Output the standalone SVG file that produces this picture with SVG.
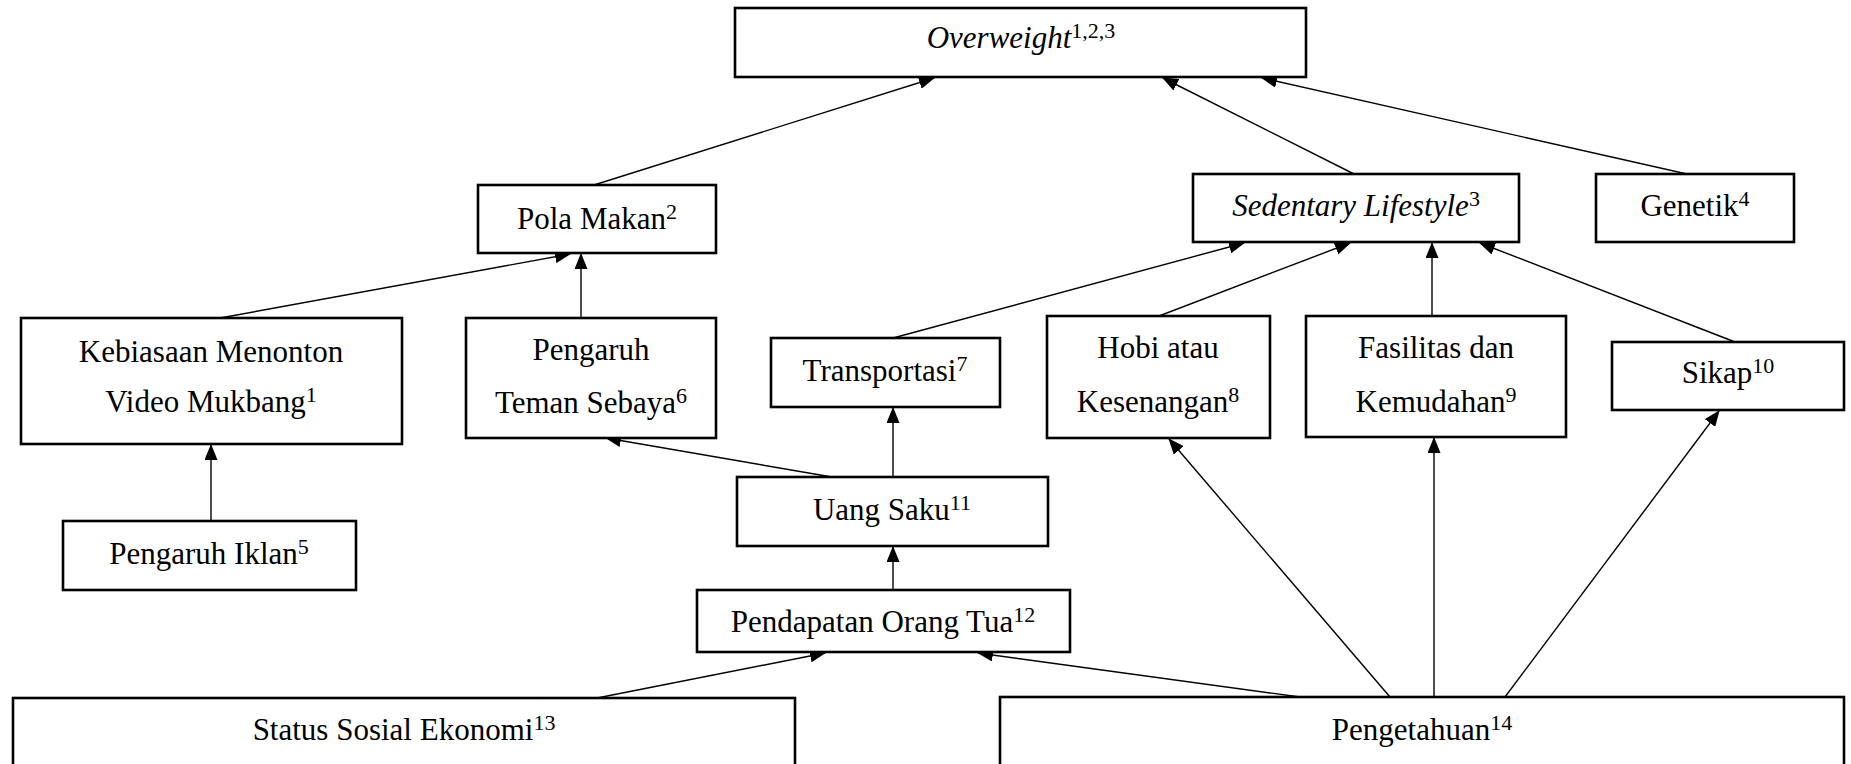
<svg xmlns="http://www.w3.org/2000/svg" width="1851" height="764" viewBox="0 0 1851 764">
<defs>
<marker id="ah" markerUnits="userSpaceOnUse" markerWidth="16" markerHeight="13" refX="15" refY="6.5" orient="auto">
<path d="M0,0 L16,6.5 L0,13 z" fill="#000"/>
</marker>
<style>
.box{fill:#fff;stroke:#000;stroke-width:2.6}
.t{font-family:"Liberation Serif","Times New Roman",serif;font-size:31px;fill:#000;text-anchor:middle}
.i{font-style:italic}
.sup{font-size:22px}
.c line{stroke:#000;stroke-width:1.4;marker-end:url(#ah)}
</style>
</defs>
<rect width="1851" height="764" fill="#fff"/>
<g class="c" id="connectors">
<line x1="594" y1="185" x2="934" y2="78"/>
<line x1="1354" y1="174" x2="1163" y2="78"/>
<line x1="1687" y1="174" x2="1262" y2="78"/>
<line x1="220" y1="318" x2="570" y2="254"/>
<line x1="581" y1="318" x2="581" y2="254"/>
<line x1="893" y1="338" x2="1244" y2="243"/>
<line x1="1159" y1="316" x2="1350" y2="243"/>
<line x1="1432" y1="316" x2="1432" y2="243"/>
<line x1="1735" y1="342" x2="1480" y2="243"/>
<line x1="211" y1="521" x2="211" y2="445"/>
<line x1="832" y1="477" x2="606" y2="438"/>
<line x1="893" y1="477" x2="893" y2="408"/>
<line x1="893" y1="590" x2="893" y2="547"/>
<line x1="597" y1="698" x2="825" y2="653"/>
<line x1="1300" y1="697" x2="978" y2="653"/>
<line x1="1390" y1="697" x2="1169" y2="439"/>
<line x1="1434" y1="697" x2="1434" y2="438"/>
<line x1="1505" y1="697" x2="1719" y2="411"/>
</g>
<g id="overweight"><rect class="box" x="735" y="8" width="571" height="69"/>
<text class="t" x="1021" y="48"><tspan class="i">Overweight</tspan><tspan class="sup" dy="-10">1,2,3</tspan></text></g>
<g id="pola-makan"><rect class="box" x="478" y="185" width="238" height="68"/>
<text class="t" x="597" y="229">Pola Makan<tspan class="sup" dy="-10">2</tspan></text></g>
<g id="sedentary"><rect class="box" x="1193" y="174" width="326" height="68"/>
<text class="t" x="1356" y="216"><tspan class="i">Sedentary Lifestyle</tspan><tspan class="sup" dy="-10">3</tspan></text></g>
<g id="genetik"><rect class="box" x="1596" y="174" width="198" height="68"/>
<text class="t" x="1695" y="216">Genetik<tspan class="sup" dy="-10">4</tspan></text></g>
<g id="kebiasaan"><rect class="box" x="21" y="318" width="381" height="126"/>
<text class="t" x="211" y="362">Kebiasaan Menonton</text>
<text class="t" x="211" y="412">Video Mukbang<tspan class="sup" dy="-10">1</tspan></text></g>
<g id="teman-sebaya"><rect class="box" x="466" y="318" width="250" height="120"/>
<text class="t" x="591" y="360">Pengaruh</text>
<text class="t" x="591" y="413">Teman Sebaya<tspan class="sup" dy="-10">6</tspan></text></g>
<g id="transportasi"><rect class="box" x="771" y="338" width="229" height="69"/>
<text class="t" x="885" y="381">Transportasi<tspan class="sup" dy="-10">7</tspan></text></g>
<g id="hobi"><rect class="box" x="1047" y="316" width="223" height="122"/>
<text class="t" x="1158" y="358">Hobi atau</text>
<text class="t" x="1158" y="412">Kesenangan<tspan class="sup" dy="-10">8</tspan></text></g>
<g id="fasilitas"><rect class="box" x="1306" y="316" width="260" height="121"/>
<text class="t" x="1436" y="358">Fasilitas dan</text>
<text class="t" x="1436" y="412">Kemudahan<tspan class="sup" dy="-10">9</tspan></text></g>
<g id="sikap"><rect class="box" x="1612" y="342" width="232" height="68"/>
<text class="t" x="1728" y="383">Sikap<tspan class="sup" dy="-10">10</tspan></text></g>
<g id="iklan"><rect class="box" x="63" y="521" width="293" height="69"/>
<text class="t" x="209" y="564">Pengaruh Iklan<tspan class="sup" dy="-10">5</tspan></text></g>
<g id="uang-saku"><rect class="box" x="737" y="477" width="311" height="69"/>
<text class="t" x="892" y="520">Uang Saku<tspan class="sup" dy="-10">11</tspan></text></g>
<g id="pendapatan"><rect class="box" x="697" y="590" width="373" height="62"/>
<text class="t" x="883" y="632">Pendapatan Orang Tua<tspan class="sup" dy="-10">12</tspan></text></g>
<g id="status"><rect class="box" x="13" y="698" width="782" height="80"/>
<text class="t" x="404" y="740">Status Sosial Ekonomi<tspan class="sup" dy="-10">13</tspan></text></g>
<g id="pengetahuan"><rect class="box" x="1000" y="697" width="844" height="80"/>
<text class="t" x="1422" y="740">Pengetahuan<tspan class="sup" dy="-10">14</tspan></text></g>
</svg>
